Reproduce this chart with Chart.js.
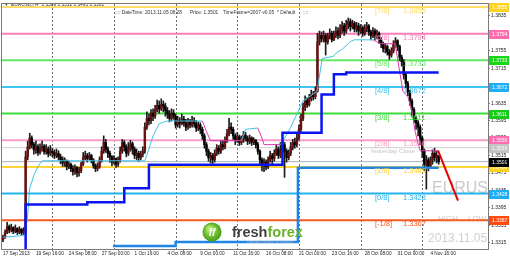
<!DOCTYPE html>
<html>
<head>
<meta charset="utf-8">
<script src="https://cdn.jsdelivr.net/npm/chart.js@4.4.0/dist/chart.umd.min.js"></script>
<style>
  html, body { margin: 0; padding: 0; background: #fff; overflow: hidden; }
  canvas { display: block; }
</style>
</head>
<body>
<canvas id="chart" width="510" height="257"></canvas>
<script>
// --- axis data ---
const xTickBars = [0, 16, 32, 48, 64, 80, 96, 112, 128, 144, 160, 176, 192, 208];
const xTickLabels = ['17 Sep 2013', '19 Sep 16:00', '24 Sep 08:00', '27 Sep 00:00', '1 Oct 16:00',
  '4 Oct 08:00', '9 Oct 00:00', '11 Oct 16:00', '16 Oct 08:00', '21 Oct 00:00', '23 Oct 16:00',
  '28 Oct 08:00', '31 Oct 00:00', '4 Nov 16:00'];
const weekStartBars = [24, 54, 84, 114, 144, 174, 204];
const yTickValues = [1.3315, 1.3355, 1.3395, 1.3435, 1.3475, 1.3515, 1.3555, 1.3595, 1.3635,
  1.3675, 1.3715, 1.3755, 1.3795, 1.3835];

// --- EURUSD H4 candles (open of bar n = close of bar n-1) ---
const firstOpen = 1.3322;
const closes = [
  1.3328, 1.3340, 1.3352, 1.3345, 1.3350, 1.3342, 1.3348, 1.3340, 1.3346, 1.3338, 1.3342,
  1.3512, 1.3535, 1.3555, 1.3540, 1.3528, 1.3535, 1.3522, 1.3530, 1.3536, 1.3524,
  1.3530, 1.3520, 1.3525, 1.3522, 1.3515, 1.3520, 1.3512, 1.3505, 1.3498, 1.3502,
  1.3490, 1.3495, 1.3485, 1.3478, 1.3488, 1.3475, 1.3480, 1.3495, 1.3510, 1.3515,
  1.3508, 1.3515, 1.3505, 1.3492, 1.3485, 1.3490, 1.3505, 1.3525, 1.3545, 1.3530,
  1.3520, 1.3512, 1.3500, 1.3508, 1.3495, 1.3505, 1.3525, 1.3545, 1.3535, 1.3520,
  1.3530, 1.3542, 1.3530, 1.3515, 1.3520, 1.3510, 1.3518, 1.3525, 1.3580, 1.3600,
  1.3595, 1.3612, 1.3605, 1.3620, 1.3630, 1.3622, 1.3632, 1.3628, 1.3618, 1.3610,
  1.3600, 1.3612, 1.3605, 1.3585, 1.3595, 1.3588, 1.3598, 1.3590, 1.3580, 1.3592,
  1.3585, 1.3595, 1.3588, 1.3578, 1.3585, 1.3575, 1.3560, 1.3540, 1.3525, 1.3510,
  1.3515, 1.3505, 1.3520, 1.3532, 1.3525, 1.3540, 1.3535, 1.3548, 1.3565, 1.3580,
  1.3575, 1.3560, 1.3550, 1.3558, 1.3545, 1.3552, 1.3562, 1.3555, 1.3548, 1.3555,
  1.3545, 1.3550, 1.3540, 1.3525, 1.3505, 1.3495, 1.3500, 1.3490, 1.3505, 1.3515,
  1.3508, 1.3520, 1.3530, 1.3515, 1.3525, 1.3540, 1.3525, 1.3510, 1.3520, 1.3535,
  1.3545, 1.3540, 1.3555, 1.3575, 1.3600, 1.3625, 1.3640, 1.3632, 1.3645, 1.3655,
  1.3650, 1.3662, 1.3775, 1.3790, 1.3782, 1.3790, 1.3775, 1.3788, 1.3795, 1.3780,
  1.3792, 1.3800, 1.3790, 1.3805, 1.3812, 1.3800, 1.3815, 1.3822, 1.3810, 1.3818,
  1.3805, 1.3812, 1.3800, 1.3808, 1.3795, 1.3805, 1.3812, 1.3798, 1.3790, 1.3800,
  1.3788, 1.3795, 1.3780, 1.3770, 1.3760, 1.3765, 1.3752, 1.3745, 1.3755, 1.3770,
  1.3778, 1.3765, 1.3740, 1.3730, 1.3700, 1.3680, 1.3660, 1.3640, 1.3620, 1.3600,
  1.3590, 1.3580, 1.3555, 1.3525, 1.3495, 1.3505, 1.3490, 1.3505, 1.3520, 1.3510,
  1.3515, 1.3501
];
const highs = [
  1.3333, 1.3345, 1.3362, 1.3356, 1.3358, 1.3352, 1.3356, 1.3350, 1.3352, 1.3348, 1.3350,
  1.3525, 1.3548, 1.3566, 1.3560, 1.3545, 1.3548, 1.3540, 1.3542, 1.3548, 1.3540,
  1.3540, 1.3535, 1.3538, 1.3532, 1.3528, 1.3530, 1.3526, 1.3518, 1.3512, 1.3510,
  1.3505, 1.3502, 1.3498, 1.3492, 1.3494, 1.3490, 1.3488, 1.3500, 1.3522, 1.3525,
  1.3520, 1.3522, 1.3518, 1.3508, 1.3496, 1.3498, 1.3512, 1.3535, 1.3560, 1.3552,
  1.3535, 1.3525, 1.3515, 1.3515, 1.3510, 1.3512, 1.3535, 1.3552, 1.3550, 1.3540,
  1.3545, 1.3550, 1.3546, 1.3535, 1.3530, 1.3525, 1.3525, 1.3535, 1.3590, 1.3615,
  1.3610, 1.3620, 1.3622, 1.3630, 1.3642, 1.3640, 1.3645, 1.3640, 1.3635, 1.3625,
  1.3618, 1.3622, 1.3620, 1.3610, 1.3605, 1.3602, 1.3610, 1.3605, 1.3598, 1.3600,
  1.3598, 1.3605, 1.3602, 1.3595, 1.3592, 1.3590, 1.3580, 1.3565, 1.3545, 1.3530,
  1.3522, 1.3520, 1.3528, 1.3540, 1.3538, 1.3548, 1.3550, 1.3558, 1.3575, 1.3600,
  1.3590, 1.3580, 1.3565, 1.3568, 1.3562, 1.3560, 1.3570, 1.3568, 1.3560, 1.3562,
  1.3558, 1.3556, 1.3552, 1.3545, 1.3528, 1.3510, 1.3508, 1.3505, 1.3512, 1.3525,
  1.3520, 1.3528, 1.3540, 1.3535, 1.3545, 1.3548, 1.3545, 1.3530, 1.3528, 1.3545,
  1.3552, 1.3555, 1.3565, 1.3585, 1.3610, 1.3635, 1.3652, 1.3648, 1.3655, 1.3665,
  1.3662, 1.3672, 1.3795, 1.3800, 1.3798, 1.3800, 1.3795, 1.3795, 1.3805, 1.3800,
  1.3800, 1.3810, 1.3808, 1.3815, 1.3822, 1.3818, 1.3825, 1.3830, 1.3828, 1.3825,
  1.3822, 1.3820, 1.3818, 1.3815, 1.3812, 1.3815, 1.3820, 1.3815, 1.3802, 1.3808,
  1.3805, 1.3802, 1.3798, 1.3785, 1.3775, 1.3772, 1.3768, 1.3758, 1.3762, 1.3778,
  1.3785, 1.3780, 1.3768, 1.3745, 1.3735, 1.3705, 1.3685, 1.3665, 1.3645, 1.3625,
  1.3605, 1.3595, 1.3585, 1.3560, 1.3530, 1.3515, 1.3510, 1.3512, 1.3528, 1.3532,
  1.3525, 1.3512
];
const lows = [
  1.3318, 1.3325, 1.3336, 1.3338, 1.3340, 1.3336, 1.3338, 1.3334, 1.3336, 1.3332, 1.3334,
  1.3335, 1.3505, 1.3530, 1.3532, 1.3518, 1.3520, 1.3515, 1.3518, 1.3525, 1.3518,
  1.3518, 1.3512, 1.3515, 1.3512, 1.3508, 1.3510, 1.3505, 1.3496, 1.3490, 1.3490,
  1.3482, 1.3485, 1.3478, 1.3470, 1.3472, 1.3466, 1.3468, 1.3476, 1.3492, 1.3505,
  1.3500, 1.3505, 1.3498, 1.3486, 1.3478, 1.3480, 1.3486, 1.3500, 1.3520, 1.3522,
  1.3510, 1.3500, 1.3492, 1.3495, 1.3488, 1.3490, 1.3500, 1.3520, 1.3525, 1.3512,
  1.3515, 1.3525, 1.3518, 1.3508, 1.3505, 1.3502, 1.3505, 1.3512, 1.3520, 1.3575,
  1.3585, 1.3588, 1.3595, 1.3600, 1.3615, 1.3612, 1.3618, 1.3615, 1.3605, 1.3600,
  1.3592, 1.3595, 1.3598, 1.3578, 1.3580, 1.3578, 1.3585, 1.3582, 1.3572, 1.3575,
  1.3578, 1.3580, 1.3580, 1.3570, 1.3572, 1.3565, 1.3552, 1.3532, 1.3515, 1.3502,
  1.3498, 1.3495, 1.3500, 1.3515, 1.3518, 1.3520, 1.3528, 1.3530, 1.3545, 1.3560,
  1.3565, 1.3552, 1.3540, 1.3545, 1.3538, 1.3540, 1.3545, 1.3548, 1.3540, 1.3542,
  1.3538, 1.3540, 1.3532, 1.3518, 1.3495, 1.3480, 1.3478, 1.3482, 1.3485, 1.3500,
  1.3495, 1.3502, 1.3515, 1.3508, 1.3510, 1.3520, 1.3465, 1.3500, 1.3505, 1.3515,
  1.3528, 1.3532, 1.3535, 1.3550, 1.3570, 1.3595, 1.3618, 1.3625, 1.3628, 1.3640,
  1.3642, 1.3645, 1.3660, 1.3768, 1.3775, 1.3775, 1.3745, 1.3770, 1.3782, 1.3775,
  1.3778, 1.3785, 1.3782, 1.3785, 1.3795, 1.3790, 1.3795, 1.3805, 1.3800, 1.3805,
  1.3798, 1.3798, 1.3790, 1.3795, 1.3788, 1.3790, 1.3798, 1.3790, 1.3780, 1.3785,
  1.3780, 1.3782, 1.3772, 1.3762, 1.3752, 1.3750, 1.3745, 1.3735, 1.3740, 1.3750,
  1.3762, 1.3755, 1.3732, 1.3720, 1.3690, 1.3670, 1.3652, 1.3630, 1.3605, 1.3590,
  1.3575, 1.3560, 1.3540, 1.3510, 1.3480, 1.3438, 1.3480, 1.3485, 1.3495, 1.3502,
  1.3498, 1.3495
];

// --- Murrey math levels ---
const murreyLevels = [1.3855, 1.3794, 1.3733, 1.3672, 1.3611, 1.3550, 1.3489, 1.3428, 1.3367];
const murreyNames = ['[7/8]', '[6/8]', '[5/8]', '[4/8]', '[3/8]', '[2/8]', '[1/8]', '[0/8]', '[-1/8]'];
const murreyColors = ['#ffdd66', '#f77fb6', '#66e666', '#3cc4f2', '#3ddc3d', '#f79cc6', '#ffd43a', '#24b4f0', '#f25a22'];
const murreyBoxColors = ['#ffd21f', '#ff6cb0', '#16d816', '#1eaef5', '#14cc14', '#ff6cb0', '#ffd21f', '#1eaef5', '#ff4a10'];
const yesterdayClose = 1.3533;
const lastPrice = 1.3501;

// --- indicator lines: [bar, price] ---
const trailBlue = [[11, 1.3290], [11, 1.3403], [41, 1.3408], [59, 1.3440], [71, 1.3494],
  [136, 1.3567], [155, 1.3655], [161, 1.3701], [167, 1.3705], [212, 1.3705]];
const trailLight = [[53.5, 1.3308], [84, 1.3317], [143.5, 1.3487], [212, 1.3487]];
const cyanLine = [[0, 1.3328], [10, 1.3332], [11, 1.3340], [12, 1.3380], [13, 1.3440], [15, 1.3470],
  [17, 1.3490], [19, 1.3503], [69, 1.3503], [71, 1.3530], [73, 1.3560], [76, 1.3588], [80, 1.3594],
  [97, 1.3594]];
const cyanLine2 = [[116, 1.3549], [118, 1.3575], [124, 1.3578]];
const cyanLine3 = [[135, 1.3540], [137, 1.3555], [140, 1.3580], [143, 1.3610], [146, 1.3640],
  [152.8, 1.3662], [155.3, 1.3737], [160.6, 1.3742], [163, 1.3753], [165, 1.3758], [169, 1.3776],
  [171, 1.3780], [180, 1.3780]];
const magentaLine = [[97, 1.3594], [99, 1.3570], [101, 1.3549], [116, 1.3549]];
const magentaLine2 = [[124, 1.3578], [126, 1.3555], [127, 1.3540], [135, 1.3540]];
const magentaLine3 = [[180, 1.3780], [183.5, 1.3771], [190.8, 1.3771], [194.6, 1.3662],
  [197, 1.3650], [199, 1.3617], [200.5, 1.3571], [202, 1.3542], [203, 1.3526], [212, 1.3526]];
const projection = [[211.7, 1.3526], [221.4, 1.3412]];

const opens = closes.map((c, i) => (i === 0 ? firstOpen : closes[i - 1]));
const xMin = -0.5;
const xMax = 236;

function pts(arr) {
  return arr.map(p => ({ x: p[0], y: p[1] }));
}

function lineSet(arr, color, width, order, stepped) {
  return {
    type: 'line',
    data: pts(arr),
    borderColor: color,
    borderWidth: width,
    pointRadius: 0,
    tension: 0,
    stepped: stepped || false,
    order: order
  };
}

const datasets = [];

// horizontal levels (drawn first, behind everything)
murreyLevels.forEach((p, k) => {
  datasets.push(lineSet([[xMin, p], [xMax, p]], murreyColors[k], 2, 20));
});
datasets.push(lineSet([[xMin, yesterdayClose], [xMax, yesterdayClose]], '#cfcfcf', 1, 19));
datasets.push(lineSet([[xMin, lastPrice], [xMax, lastPrice]], '#a7b2c2', 1, 19));

// candles
datasets.push({
  type: 'bar',
  data: closes.map((c, i) => ({ x: i, y: [lows[i], highs[i]] })),
  backgroundColor: '#1c1c1c',
  barThickness: 1,
  grouped: false,
  order: 6
});
datasets.push({
  type: 'bar',
  data: closes.map((c, i) => ({ x: i, y: [opens[i], closes[i]] })),
  backgroundColor: ctx => (closes[ctx.dataIndex] >= opens[ctx.dataIndex] ? '#6a1010' : '#000000'),
  barThickness: 1.8,
  minBarLength: 1,
  grouped: false,
  order: 5
});

// indicators
datasets.push(lineSet(trailLight, '#1f86e8', 2.5, 3, 'before'));
datasets.push(lineSet(trailBlue, '#0a14f0', 2.5, 2, 'before'));
datasets.push(lineSet(cyanLine, '#3ec4e6', 1, 2));
datasets.push(lineSet(cyanLine2, '#3ec4e6', 1, 2));
datasets.push(lineSet(cyanLine3, '#3ec4e6', 1, 2));
datasets.push(lineSet(magentaLine, '#dc3cae', 1, 2));
datasets.push(lineSet(magentaLine2, '#dc3cae', 1, 2));
datasets.push(lineSet(magentaLine3, '#dc3cae', 1, 2));
datasets.push(lineSet(projection, '#e80000', 2, 1));

const chartDecor = {
  id: 'chartDecor',
  beforeDraw(chart) {
    const ctx = chart.ctx;
    ctx.save();
    ctx.fillStyle = '#ffffff';
    ctx.fillRect(0, 0, chart.width, chart.height);
    ctx.restore();
  },
  beforeDatasetsDraw(chart) {
    const { ctx, chartArea: a, scales } = chart;
    ctx.save();
    ctx.beginPath();
    ctx.rect(a.left, a.top, a.right - a.left, a.bottom - a.top);
    ctx.clip();

    // weekly separators
    ctx.strokeStyle = '#6e6e6e';
    ctx.lineWidth = 1;
    ctx.setLineDash([2, 2]);
    weekStartBars.forEach(b => {
      const x = Math.round(scales.x.getPixelForValue(b)) + 0.5;
      ctx.beginPath();
      ctx.moveTo(x, a.top);
      ctx.lineTo(x, a.bottom);
      ctx.stroke();
    });
    ctx.setLineDash([]);

    // watermark
    ctx.fillStyle = '#c9c9c9';
    ctx.textBaseline = 'alphabetic';
    ctx.font = '16px "Liberation Sans", Arial, sans-serif';
    ctx.fillText('EURUSD', 432, 193);
    ctx.font = '8px "Liberation Sans", Arial, sans-serif';
    ctx.fillText('HIGH', 438, 221);
    ctx.fillText('LOW', 468, 221);
    ctx.fillStyle = '#cfcfcf';
    ctx.font = '12px "Liberation Sans", Arial, sans-serif';
    ctx.fillText('2013.11.05 08:28', 428, 242);
    ctx.restore();
  },
  afterDatasetsDraw(chart) {
    const { ctx, chartArea: a, scales } = chart;
    const y = scales.y;
    ctx.save();
    ctx.beginPath();
    ctx.rect(a.left, a.top, a.right - a.left, a.bottom - a.top);
    ctx.clip();

    // Murrey labels
    ctx.font = '7.5px "Liberation Sans", Arial, sans-serif';
    ctx.textBaseline = 'middle';
    murreyLevels.forEach((p, k) => {
      const py = y.getPixelForValue(p) + 4;
      ctx.fillStyle = murreyColors[k];
      ctx.fillText(murreyNames[k], 375, py);
      ctx.fillText(p.toFixed(4), 403, py);
    });

    ctx.fillStyle = '#c4c4c4';
    ctx.font = '6.2px "Liberation Sans", Arial, sans-serif';
    ctx.fillText('Yesterday Close', 370, y.getPixelForValue(yesterdayClose) + 4);

    // header texts
    ctx.fillStyle = '#333';
    ctx.font = '4.8px "Liberation Sans", Arial, sans-serif';
    ctx.fillText('\u25BC', 4, 5);
    ctx.fillText('EURUSD,H4  1.3509 1.3512 1.3495 1.3501', 11, 5);
    ctx.fillText(':::: DateTime: 2013.11.05 08:28', 115, 13);
    ctx.fillText('Price: 1.3501', 190, 13);
    ctx.fillText('TimeFrame=2007-v0.05', 223, 13);
    ctx.fillText('* Default', 277, 13);
    ctx.fillText('::::', 303, 13);

    // freshforex logo
    const cx = 212, cy = 232;
    const g = ctx.createRadialGradient(cx - 3, cy - 4, 1, cx, cy, 10);
    g.addColorStop(0, '#b8ef6a');
    g.addColorStop(1, '#3f9a10');
    ctx.fillStyle = g;
    ctx.beginPath();
    ctx.arc(cx, cy, 9.5, 0, Math.PI * 2);
    ctx.fill();
    ctx.fillStyle = '#ffffff';
    ctx.font = 'italic bold 10px "Liberation Sans", Arial, sans-serif';
    ctx.textAlign = 'center';
    ctx.fillText('ff', cx, cy + 1);
    ctx.textAlign = 'left';
    ctx.textBaseline = 'alphabetic';
    ctx.font = 'bold 14.5px "Liberation Sans", Arial, sans-serif';
    ctx.fillStyle = '#3e3e3e';
    ctx.fillText('fresh', 232, 237);
    const w = ctx.measureText('fresh').width;
    ctx.fillStyle = '#6bb22a';
    ctx.fillText('forex', 232 + w, 237);
    ctx.fillStyle = '#b5b5b5';
    ctx.font = '4px "Liberation Sans", Arial, sans-serif';
    ctx.fillText('\u0441\u0432\u0435\u0436\u0438\u0439 \u0432\u0437\u0433\u043b\u044f\u0434 \u043d\u0430 \u0434\u0435\u043d\u044c\u0433\u0438', 247, 243);
    ctx.restore();
  },
  afterDraw(chart) {
    const { ctx, chartArea: a, scales } = chart;
    const y = scales.y;
    ctx.save();
    // frame
    ctx.strokeStyle = '#7a7a7a';
    ctx.lineWidth = 1;
    ctx.strokeRect(a.left - 0.5, a.top - 0.5, a.right - a.left + 1, a.bottom - a.top + 1);

    // price boxes on the right scale
    const boxes = murreyLevels.map((p, k) => [p, murreyBoxColors[k], '#ffffff']);
    boxes.push([yesterdayClose, '#c4c4c4', '#ffffff']);
    boxes.push([lastPrice, '#000000', '#ffffff']);
    ctx.font = '5px "Liberation Sans", Arial, sans-serif';
    ctx.textBaseline = 'middle';
    boxes.forEach(b => {
      const py = Math.round(y.getPixelForValue(b[0]));
      ctx.fillStyle = b[1];
      ctx.fillRect(a.right + 1, py - 4, 20, 9);
      ctx.fillStyle = b[2];
      ctx.fillText(b[0].toFixed(4), a.right + 4, py + 0.5);
    });
    ctx.restore();
  }
};

new Chart(document.getElementById('chart'), {
  type: 'line',
  data: { datasets },
  options: {
    responsive: false,
    animation: false,
    events: [],
    layout: { padding: { left: 2, top: 2, right: 0, bottom: 0 } },
    plugins: { legend: { display: false }, tooltip: { enabled: false } },
    scales: {
      x: {
        type: 'linear',
        min: xMin,
        max: xMax,
        offset: false,
        position: 'bottom',
        afterBuildTicks: s => { s.ticks = xTickBars.map(v => ({ value: v })); },
        afterFit: s => { s.height = 8; },
        ticks: {
          autoSkip: false,
          maxRotation: 0,
          align: 'start',
          padding: 0,
          color: '#222',
          font: { size: 4.7, family: '"Liberation Sans", Arial, sans-serif' },
          callback: (v, i) => xTickLabels[i]
        },
        grid: { drawOnChartArea: false, tickLength: 2, color: '#7a7a7a' },
        border: { color: '#7a7a7a' }
      },
      y: {
        type: 'linear',
        position: 'right',
        min: 1.3301,
        max: 1.3862,
        afterBuildTicks: s => { s.ticks = yTickValues.map(v => ({ value: v })); },
        afterFit: s => { s.width = 22; },
        ticks: {
          padding: 1,
          color: '#222',
          font: { size: 5, family: '"Liberation Sans", Arial, sans-serif' },
          callback: v => v.toFixed(4)
        },
        grid: { drawOnChartArea: false, tickLength: 2, color: '#7a7a7a' },
        border: { color: '#7a7a7a' }
      }
    }
  },
  plugins: [chartDecor]
});
</script>
</body>
</html>
